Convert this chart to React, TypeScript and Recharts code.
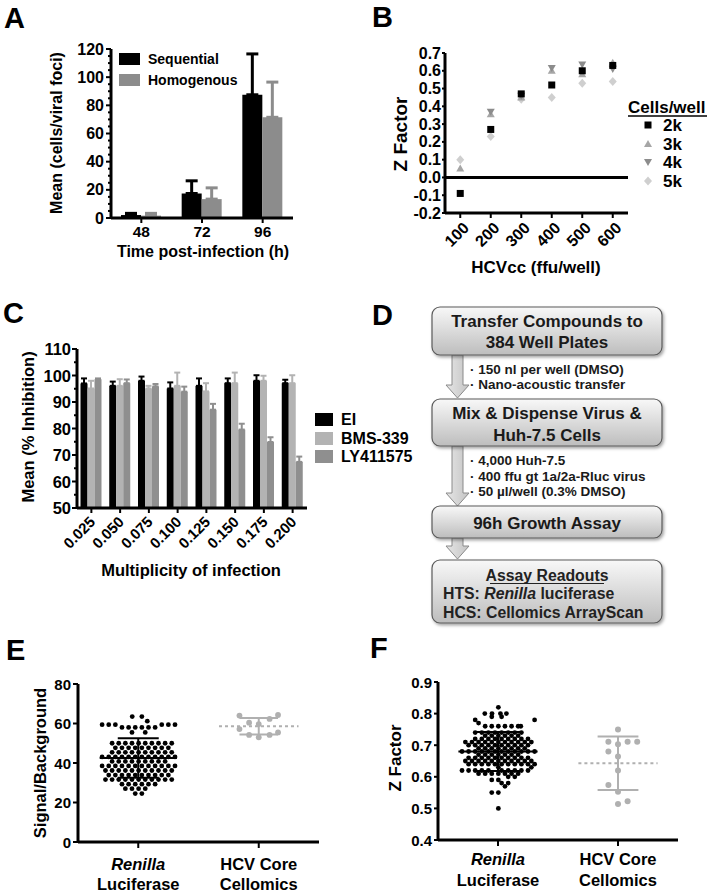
import React from 'react';
import {
  BarChart, Bar, ErrorBar, XAxis, YAxis,
  ScatterChart, Scatter, ReferenceLine,
} from 'recharts';

const FONT = '"Liberation Sans", Arial, Helvetica, sans-serif';
const AXIS = { stroke: '#000', strokeWidth: 3 };

// A - foci size by infection format
const timePoints = ['48', '72', '96'];
const sequentialMean = [2.1, 17.4, 87.5];
const sequentialSD = [1.2, 9.0, 29.0];
const homogenousMean = [1.7, 13.4, 71.5];
const homogenousSD = [1.6, 8.0, 25.0];
const aTicks = [0, 5, 10, 15, 20, 25, 30, 35, 40, 45, 50, 55, 60, 65, 70, 75, 80, 85, 90, 95, 100, 105, 110, 115, 120];
const aMajors = [0, 20, 40, 60, 80, 100, 120];

// B - Z factor vs virus input, per cell density
const ffuPerWell = [100, 200, 300, 400, 500, 600];
const z2k = [-0.09, 0.27, 0.47, 0.52, 0.6, 0.63];
const z3k = [0.05, 0.355, 0.45, 0.6, 0.58, 0.645];
const z4k = [null, 0.37, 0.46, 0.615, 0.635, 0.61];
const z5k = [0.1, 0.23, 0.44, 0.45, 0.53, 0.54];
const bTicks = [-0.2, -0.1, 0, 0.1, 0.2, 0.3, 0.4, 0.5, 0.6, 0.7];

// C - inhibition vs MOI
const moiLabels = ['0.025', '0.050', '0.075', '0.100', '0.125', '0.150', '0.175', '0.200'];
const eiMean = [97.0, 96.1, 98.0, 95.1, 96.1, 97.1, 98.0, 97.1];
const eiSD = [1.9, 1.6, 1.6, 2.3, 2.8, 1.8, 2.1, 1.3];
const bmsMean = [95.1, 96.1, 95.1, 96.1, 94.0, 97.1, 98.0, 97.1];
const bmsSD = [2.9, 2.5, 1.0, 5.0, 3.1, 4.0, 1.9, 3.0];
const lyMean = [98.6, 97.1, 95.9, 93.9, 87.1, 79.6, 74.9, 67.4];
const lySD = [0.3, 1.4, 0.9, 1.9, 2.2, 2.2, 1.8, 2.0];
const cTicks = [50, 55, 60, 65, 70, 75, 80, 85, 90, 95, 100, 105, 110];
const cMajors = [50, 60, 70, 80, 90, 100, 110];

// E - signal/background per plate; rows of [value, horizontal jitter offsets]
const renillaSBRows: [number, number[]][] = [
  [63.5, [-0.05, 0.03]],
  [61.2, [0.075]],
  [59.4, [-0.3, -0.245, -0.19, 0.195, 0.25, 0.305]],
  [58.0, [-0.135, -0.08, -0.025, 0.03, 0.085, 0.14]],
  [55.5, [-0.052, 0.058]],
  [50.0, [-0.217, -0.162, -0.107, -0.052, 0.003, 0.058, 0.113, 0.168, 0.223, 0.278]],
  [47.7, [-0.19, -0.135, -0.08, -0.025, 0.03, 0.085, 0.14, 0.195, 0.25]],
  [45.4, [-0.217, -0.162, -0.107, -0.052, 0.003, 0.058, 0.113, 0.168, 0.223, 0.278]],
  [43.1, [-0.3, -0.245, -0.19, -0.135, -0.08, -0.025, 0.03, 0.085, 0.14, 0.195, 0.25, 0.305]],
  [40.8, [-0.217, -0.162, -0.107, -0.052, 0.003, 0.058, 0.113, 0.168, 0.223]],
  [38.5, [-0.3, -0.245, -0.19, -0.135, -0.08, -0.025, 0.03, 0.085, 0.14, 0.195, 0.25, 0.305]],
  [36.2, [-0.272, -0.217, -0.162, -0.107, -0.052, 0.003, 0.058, 0.113, 0.168, 0.223, 0.278]],
  [33.9, [-0.245, -0.19, -0.135, -0.08, -0.025, 0.03, 0.085, 0.14, 0.195, 0.25]],
  [31.6, [-0.272, -0.217, -0.162, -0.107, -0.052, 0.003, 0.058, 0.113, 0.168, 0.223, 0.278]],
  [29.3, [-0.135, -0.08, -0.025, 0.03, 0.085, 0.14]],
  [27.0, [-0.107, -0.052, 0.003, 0.058]],
  [24.5, [-0.025, 0.03]],
];
const coreSB: [number, number][] = [
  [-0.16, 64.0], [-0.08, 60.4], [0, 59.7], [0.09, 62.3], [0.16, 64.3],
  [-0.16, 57.2], [-0.08, 54.2], [0, 53.0], [0.09, 54.2], [0.16, 55.5],
];
const renillaSBMean = 42.5, renillaSBSD = 10;
const coreSBMean = 58.6, coreSBSD = 4.2;
const eTicks = [0, 20, 40, 60, 80];

// F - Z factor per plate
const renillaZRows: [number, number[]][] = [
  [0.82, [0.003]],
  [0.80, [-0.11, -0.05, 0.02, 0.07]],
  [0.79, [-0.052, 0.03]],
  [0.78, [-0.19, 0.305]],
  [0.77, [-0.162]],
  [0.76, [-0.107, -0.052, 0.003, 0.058, 0.113, 0.168, 0.19]],
  [0.74, [-0.19, -0.135, -0.08, -0.025, 0.03, 0.085, 0.14, 0.195]],
  [0.73, [-0.107, -0.052, 0.003, 0.058, 0.113, 0.168]],
  [0.72, [-0.19, -0.135, -0.08, -0.025, 0.03, 0.085, 0.14, 0.195, 0.25]],
  [0.71, [-0.272, -0.217, -0.162, -0.107, -0.052, 0.003, 0.058, 0.113, 0.168, 0.223, 0.278]],
  [0.70, [-0.245, -0.19, -0.135, -0.08, -0.025, 0.03, 0.085, 0.14, 0.195, 0.25]],
  [0.69, [-0.162, -0.107, -0.052, 0.003, 0.058, 0.113, 0.168, 0.223]],
  [0.68, [-0.3, -0.245, -0.19, -0.135, -0.08, -0.025, 0.03, 0.085, 0.14, 0.195, 0.25, 0.305]],
  [0.67, [-0.162, -0.107, -0.052, 0.003, 0.058, 0.113, 0.168]],
  [0.66, [-0.245, -0.19, -0.135, -0.08, -0.025, 0.03, 0.085, 0.14, 0.195, 0.25]],
  [0.65, [-0.272, -0.217, -0.162, -0.107, -0.052, 0.003, 0.058, 0.113, 0.168, 0.223, 0.278]],
  [0.64, [-0.245, -0.19, -0.135, -0.08, -0.025, 0.03, 0.085, 0.14, 0.195, 0.25, 0.305]],
  [0.63, [0.003, 0.278]],
  [0.62, [-0.3, -0.245, -0.19, -0.135, -0.08, 0.03, 0.085, 0.14, 0.195, 0.25]],
  [0.61, [-0.162, -0.107, -0.052, 0.003, 0.058, 0.113, 0.168]],
  [0.60, [0.085, 0.14]],
  [0.59, [-0.052, 0.003]],
  [0.58, [0.03, 0.085]],
  [0.57, [0.058]],
  [0.55, [-0.052, 0.003]],
  [0.50, [0.003]],
];
const coreZ: [number, number][] = [
  [0, 0.75], [-0.08, 0.711], [0.08, 0.711], [0.16, 0.711], [0, 0.703], [-0.08, 0.68],
  [0, 0.664], [0, 0.62], [-0.08, 0.574], [0, 0.553], [0.08, 0.523], [0, 0.514],
];
const renillaZMean = 0.68, renillaZSD = 0.062;
const coreZMean = 0.643, coreZSD = 0.0845;
const fTicks = [0.4, 0.5, 0.6, 0.7, 0.8, 0.9];

const platformLabels = [
  { top: 'Renilla', bottom: 'Luciferase', italic: true },
  { top: 'HCV Core', bottom: 'Cellomics', italic: false },
];

const GRAY_A = '#8c8c8c';
const LIGHT = '#b3b3b3';
const MID = '#8f8f8f';
const DOT_GRAY = '#b0b0b0';

const fociData = timePoints.map((t, i) => ({
  time: t,
  seq: sequentialMean[i], seqErr: [0, sequentialSD[i]],
  hom: homogenousMean[i], homErr: [0, homogenousSD[i]],
}));

const moiData = moiLabels.map((m, i) => ({
  moi: m,
  ei: eiMean[i], eiErr: [0, eiSD[i]],
  bms: bmsMean[i], bmsErr: [0, bmsSD[i]],
  ly: lyMean[i], lyErr: [0, lySD[i]],
}));

const toSeries = (vals: (number | null)[]) =>
  ffuPerWell.map((x, i) => ({ x, y: vals[i] })).filter((d) => d.y !== null);

const fromRows = (rows: [number, number[]][], cat: number) =>
  rows.flatMap(([y, offs]) => offs.map((o) => ({ x: cat + o, y })));
const fromPairs = (pairs: [number, number][], cat: number) => pairs.map(([o, y]) => ({ x: cat + o, y }));

// ---- tick renderers ----
const leftTick = (o: { fontSize: number; len: number; gap: number; majors?: number[]; fmt?: (v: number) => string }) =>
  (p: any) => {
    const v = p.payload.value as number;
    const major = !o.majors || o.majors.includes(v);
    const len = major ? o.len : o.len * 0.6;
    return (
      <g>
        <line x1={p.x} x2={p.x - len} y1={p.y} y2={p.y} stroke="#000" strokeWidth={2} />
        {major && (
          <text x={p.x - o.len - o.gap} y={p.y} textAnchor="end" dominantBaseline="central"
            fontSize={o.fontSize} fontWeight="bold" fontFamily={FONT} fill="#000">
            {o.fmt ? o.fmt(v) : v}
          </text>
        )}
      </g>
    );
  };

const catTick = (fontSize: number) => (p: any) => (
  <g>
    <line x1={p.x} x2={p.x} y1={p.y} y2={p.y + 5} stroke="#000" strokeWidth={2} />
    <text x={p.x} y={p.y + 18.5} textAnchor="middle" fontSize={fontSize} fontWeight="bold" fontFamily={FONT} fill="#000">
      {p.payload.value}
    </text>
  </g>
);

const rotTick = (fontSize: number, dx: number, dy: number) => (p: any) => {
  const ax = p.x + dx;
  const ay = p.y + dy;
  return (
    <g>
      <line x1={p.x} x2={p.x} y1={p.y} y2={p.y + 5} stroke="#000" strokeWidth={2} />
      <text x={ax} y={ay} transform={`rotate(-45 ${ax} ${ay})`} textAnchor="end" dominantBaseline="central"
        fontSize={fontSize} fontWeight="bold" fontFamily={FONT} fill="#000">
        {p.payload.value}
      </text>
    </g>
  );
};

const platformTick = (dy1: number, dy2: number) => (p: any) => {
  const lab = platformLabels[p.payload.value - 1];
  if (!lab) return <g />;
  return (
    <g fontFamily={FONT} fontSize={16.5} fontWeight="bold" fill="#000">
      <line x1={p.x} x2={p.x} y1={p.y} y2={p.y + 6} stroke="#000" strokeWidth={2} />
      <text x={p.x} y={p.y + dy1} textAnchor="middle" fontStyle={lab.italic ? 'italic' : 'normal'}>{lab.top}</text>
      <text x={p.x} y={p.y + dy2} textAnchor="middle">{lab.bottom}</text>
    </g>
  );
};

// ---- marker shapes ----
const square = (c: string) => (p: any) => <rect x={p.cx - 3.5} y={p.cy - 3.5} width={7} height={7} fill={c} />;
const triUp = (c: string) => (p: any) => (
  <polygon points={`${p.cx},${p.cy - 4} ${p.cx + 4},${p.cy + 3} ${p.cx - 4},${p.cy + 3}`} fill={c} />
);
const triDown = (c: string) => (p: any) => (
  <polygon points={`${p.cx},${p.cy + 4} ${p.cx + 4},${p.cy - 3} ${p.cx - 4},${p.cy - 3}`} fill={c} />
);
const diamond = (c: string) => (p: any) => (
  <polygon points={`${p.cx},${p.cy - 4.5} ${p.cx + 4},${p.cy} ${p.cx},${p.cy + 4.5} ${p.cx - 4},${p.cy}`} fill={c} />
);
const dot = (c: string, r: number) => (p: any) => <circle cx={p.cx} cy={p.cy} r={r} fill={c} />;

const PanelA = () => (
  <BarChart width={350} height={262} data={fociData} margin={{ top: 49, right: 57, bottom: 0, left: 0 }}
    barCategoryGap={10} barGap={0}>
    <XAxis dataKey="time" height={44} interval={0} tickLine={false} tickSize={0} tickMargin={0} axisLine={AXIS} tick={catTick(15.5)} />
    <YAxis width={111} domain={[0, 120]} ticks={aTicks} interval={0} tickLine={false} tickSize={0} tickMargin={0}
      axisLine={AXIS} tick={leftTick({ fontSize: 16, len: 5, gap: 2, majors: aMajors })} />
    <Bar dataKey="seq" fill="#000" isAnimationActive={false}>
      <ErrorBar dataKey="seqErr" width={6} strokeWidth={3} stroke="#000" direction="y" />
    </Bar>
    <Bar dataKey="hom" fill={GRAY_A} isAnimationActive={false}>
      <ErrorBar dataKey="homErr" width={6} strokeWidth={3} stroke={GRAY_A} direction="y" />
    </Bar>
  </BarChart>
);

const PanelB = () => (
  <ScatterChart width={360} height={290} margin={{ top: 53, right: 82, bottom: 0, left: 0 }}>
    <XAxis type="number" dataKey="x" domain={[50, 650]} ticks={ffuPerWell} interval={0} height={77}
      tickLine={false} tickSize={0} tickMargin={0} axisLine={AXIS} tick={rotTick(16, 6, 12)} allowDataOverflow />
    <YAxis type="number" dataKey="y" domain={[-0.2, 0.7]} ticks={bTicks} interval={0} width={95}
      tickLine={false} tickSize={0} tickMargin={0} axisLine={AXIS} allowDataOverflow
      tick={leftTick({ fontSize: 16, len: 3, gap: 1, fmt: (v) => v.toFixed(1) })} />
    <ReferenceLine y={0} stroke="#000" strokeWidth={3} />
    <Scatter data={toSeries(z5k)} shape={diamond('#cfcfcf')} isAnimationActive={false} />
    <Scatter data={toSeries(z3k)} shape={triUp('#a6a6a6')} isAnimationActive={false} />
    <Scatter data={toSeries(z4k)} shape={triDown('#8c8c8c')} isAnimationActive={false} />
    <Scatter data={toSeries(z2k)} shape={square('#000')} isAnimationActive={false} />
  </ScatterChart>
);

const PanelC = () => (
  <BarChart width={350} height={300} data={moiData} margin={{ top: 49, right: 43, bottom: 0, left: 0 }}
    barCategoryGap={3.5} barGap={0}>
    <XAxis dataKey="moi" height={92} interval={0} tickLine={false} tickSize={0} tickMargin={0} axisLine={AXIS} tick={rotTick(15, 1, 11)} />
    <YAxis width={77} domain={[50, 110]} ticks={cTicks} interval={0} tickLine={false} tickSize={0} tickMargin={0}
      axisLine={AXIS} tick={leftTick({ fontSize: 16.5, len: 5, gap: 1, majors: cMajors })} allowDataOverflow />
    <Bar dataKey="ei" fill="#000" isAnimationActive={false}>
      <ErrorBar dataKey="eiErr" width={3} strokeWidth={2} stroke="#000" direction="y" />
    </Bar>
    <Bar dataKey="bms" fill={LIGHT} isAnimationActive={false}>
      <ErrorBar dataKey="bmsErr" width={3} strokeWidth={2} stroke={LIGHT} direction="y" />
    </Bar>
    <Bar dataKey="ly" fill={MID} isAnimationActive={false}>
      <ErrorBar dataKey="lyErr" width={3} strokeWidth={2} stroke={MID} direction="y" />
    </Bar>
  </BarChart>
);

const meanSD = (cat: number, mean: number, sd: number, halfMean: number, halfCap: number, color: string, dashed: boolean) => [
  <ReferenceLine key="m" segment={[{ x: cat - halfMean, y: mean }, { x: cat + halfMean, y: mean }]} stroke={color}
    strokeWidth={2} strokeDasharray={dashed ? '3 3' : undefined} />,
  <ReferenceLine key="v" segment={[{ x: cat, y: mean - sd }, { x: cat, y: mean + sd }]} stroke={color} strokeWidth={2} />,
  <ReferenceLine key="t" segment={[{ x: cat - halfCap, y: mean + sd }, { x: cat + halfCap, y: mean + sd }]} stroke={color} strokeWidth={2} />,
  <ReferenceLine key="b" segment={[{ x: cat - halfCap, y: mean - sd }, { x: cat + halfCap, y: mean - sd }]} stroke={color} strokeWidth={2} />,
];

const PanelE = () => (
  <ScatterChart width={350} height={255} margin={{ top: 44, right: 31, bottom: 0, left: 0 }}>
    <XAxis type="number" dataKey="x" domain={[0.5, 2.5]} ticks={[1, 2]} interval={0} height={53}
      tickLine={false} tickSize={0} tickMargin={0} axisLine={AXIS} tick={platformTick(28, 48)} allowDataOverflow />
    <YAxis type="number" dataKey="y" domain={[0, 80]} ticks={eTicks} interval={0} width={78}
      tickLine={false} tickSize={0} tickMargin={0} axisLine={AXIS} allowDataOverflow
      tick={leftTick({ fontSize: 15, len: 5, gap: 2 })} />
    <Scatter data={fromRows(renillaSBRows, 1)} shape={dot('#000', 2.4)} isAnimationActive={false} />
    <Scatter data={fromPairs(coreSB, 2)} shape={dot(DOT_GRAY, 2.9)} isAnimationActive={false} />
    {meanSD(1, renillaSBMean, renillaSBSD, 0.32, 0.17, '#000', false)}
    {meanSD(2, coreSBMean, coreSBSD, 0.33, 0.16, DOT_GRAY, true)}
  </ScatterChart>
);

const PanelF = () => (
  <ScatterChart width={360} height={255} margin={{ top: 42, right: 32, bottom: 0, left: 0 }}>
    <XAxis type="number" dataKey="x" domain={[0.5, 2.5]} ticks={[1, 2]} interval={0} height={55}
      tickLine={false} tickSize={0} tickMargin={0} axisLine={AXIS} tick={platformTick(25, 46)} allowDataOverflow />
    <YAxis type="number" dataKey="y" domain={[0.4, 0.9]} ticks={fTicks} interval={0} width={88}
      tickLine={false} tickSize={0} tickMargin={0} axisLine={AXIS} allowDataOverflow
      tick={leftTick({ fontSize: 15, len: 4, gap: 2, fmt: (v) => v.toFixed(1) })} />
    <Scatter data={fromRows(renillaZRows, 1)} shape={dot('#000', 2.4)} isAnimationActive={false} />
    <Scatter data={fromPairs(coreZ, 2)} shape={dot(DOT_GRAY, 3)} isAnimationActive={false} />
    {meanSD(1, renillaZMean, renillaZSD, 0.33, 0.19, '#000', false)}
    {meanSD(2, coreZMean, coreZSD, 0.33, 0.17, DOT_GRAY, true)}
  </ScatterChart>
);

const B = (props: any) => <text fontFamily={FONT} fontWeight="bold" fill="#000" {...props} />;
const VTitle = ({ x, y, size, children }: any) => (
  <B x={x} y={y} fontSize={size} textAnchor="middle" dominantBaseline="central" transform={`rotate(-90 ${x} ${y})`}>{children}</B>
);

const arrow = (yt: number, yh: number, yb: number) =>
  `452,${yt} 463,${yt} 463,${yh} 469,${yh} 457.5,${yb} 446,${yh} 452,${yh}`;

const Box = ({ y, h }: { y: number; h: number }) => (
  <rect x={432} y={y} width={230} height={h} rx={8} ry={8} fill="url(#boxGrad)" stroke="#5a5a5a" strokeWidth={1.2} filter="url(#shadow)" />
);

const Overlay = () => (
  <svg width={710} height={895} style={{ position: 'absolute', left: 0, top: 0, pointerEvents: 'none' }}>
    <defs>
      <linearGradient id="boxGrad" x1="0" y1="0" x2="0" y2="1">
        <stop offset="0%" stopColor="#f8f8f8" />
        <stop offset="100%" stopColor="#bdbdbd" />
      </linearGradient>
      <linearGradient id="arrowGrad" x1="0" y1="0" x2="1" y2="0">
        <stop offset="0%" stopColor="#e6e6e6" />
        <stop offset="100%" stopColor="#c4c4c4" />
      </linearGradient>
      <filter id="shadow" x="-10%" y="-10%" width="130%" height="140%">
        <feDropShadow dx="1.5" dy="2" stdDeviation="1.5" floodOpacity="0.35" />
      </filter>
    </defs>

    {/* panel letters */}
    <B x={4} y={28} fontSize={29}>A</B>
    <B x={372} y={27} fontSize={29}>B</B>
    <B x={3} y={323} fontSize={29}>C</B>
    <B x={372} y={325} fontSize={29}>D</B>
    <B x={6} y={660} fontSize={29}>E</B>
    <B x={370} y={658} fontSize={29}>F</B>

    {/* axis titles */}
    <VTitle x={56} y={133} size={16}>Mean (cells/viral foci)</VTitle>
    <B x={203} y={257} fontSize={16} textAnchor="middle">Time post-infection (h)</B>
    <VTitle x={400} y={134} size={19}>Z Factor</VTitle>
    <B x={536} y={273} fontSize={17} textAnchor="middle">HCVcc (ffu/well)</B>
    <VTitle x={28} y={427} size={16.5}>Mean (% Inhibition)</VTitle>
    <B x={191} y={576} fontSize={16.5} textAnchor="middle">Multiplicity of infection</B>
    <VTitle x={40} y={763} size={16.5}>Signal/Background</VTitle>
    <VTitle x={395} y={758} size={17}>Z Factor</VTitle>

    {/* A legend */}
    <rect x={119} y={53} width={21} height={12} fill="#000" />
    <rect x={119} y={74} width={21} height={12} fill={GRAY_A} />
    <B x={148} y={64} fontSize={14}>Sequential</B>
    <B x={148} y={85} fontSize={14}>Homogenous</B>

    {/* B legend */}
    <B x={628} y={113} fontSize={17}>Cells/well</B>
    <line x1={628} x2={707} y1={116} y2={116} stroke="#000" strokeWidth={1.3} />
    {square('#000')({ cx: 648, cy: 125 })}
    {triUp('#a6a6a6')({ cx: 648, cy: 144 })}
    {triDown('#8c8c8c')({ cx: 648, cy: 162 })}
    {diamond('#cfcfcf')({ cx: 648, cy: 181 })}
    <B x={663} y={131} fontSize={17}>2k</B>
    <B x={663} y={150} fontSize={17}>3k</B>
    <B x={663} y={168} fontSize={17}>4k</B>
    <B x={663} y={187} fontSize={17}>5k</B>

    {/* C legend */}
    <rect x={315} y={413} width={18} height={13} fill="#000" />
    <rect x={315} y={432} width={18} height={13} fill={LIGHT} />
    <rect x={315} y={450} width={18} height={13} fill={MID} />
    <B x={341} y={425} fontSize={16}>EI</B>
    <B x={341} y={444} fontSize={16}>BMS-339</B>
    <B x={341} y={462} fontSize={16}>LY411575</B>

    {/* D workflow */}
    <polygon points={arrow(355, 385, 398)} fill="url(#arrowGrad)" stroke="#8a8a8a" strokeWidth={1} />
    <polygon points={arrow(446, 493, 506)} fill="url(#arrowGrad)" stroke="#8a8a8a" strokeWidth={1} />
    <polygon points={arrow(538, 546, 559)} fill="url(#arrowGrad)" stroke="#8a8a8a" strokeWidth={1} />
    <Box y={307} h={48} />
    <Box y={399} h={47} />
    <Box y={506} h={32} />
    <Box y={560} h={63} />
    <g fill="#1a1a1a">
      <B x={547} y={327} fontSize={17} textAnchor="middle" fill="#1a1a1a">Transfer Compounds to</B>
      <B x={547} y={348} fontSize={17} textAnchor="middle" fill="#1a1a1a">384 Well Plates</B>
      <B x={547} y={419} fontSize={17} textAnchor="middle" fill="#1a1a1a">Mix &amp; Dispense Virus &amp;</B>
      <B x={547} y={441} fontSize={17} textAnchor="middle" fill="#1a1a1a">Huh-7.5 Cells</B>
      <B x={547} y={529} fontSize={17} textAnchor="middle" fill="#1a1a1a">96h Growth Assay</B>
      <B x={470} y={374} fontSize={13.5} fill="#1a1a1a">· 150 nl per well (DMSO)</B>
      <B x={470} y={389} fontSize={13.5} fill="#1a1a1a">· Nano-acoustic transfer</B>
      <B x={470} y={465} fontSize={13.5} fill="#1a1a1a">· 4,000 Huh-7.5</B>
      <B x={470} y={480.5} fontSize={13.5} fill="#1a1a1a">· 400 ffu gt 1a/2a-Rluc virus</B>
      <B x={470} y={496} fontSize={13.5} fill="#1a1a1a">· 50 µl/well (0.3% DMSO)</B>
      <B x={547} y={580.5} fontSize={15.8} textAnchor="middle" fill="#222">Assay Readouts</B>
      <line x1={490} x2={604} y1={583.5} y2={583.5} stroke="#222" strokeWidth={1.2} />
      <B x={443} y={598.5} fontSize={15.8} fill="#222">HTS: <tspan fontStyle="italic">Renilla</tspan> luciferase</B>
      <B x={443} y={617.5} fontSize={15.8} fill="#222">HCS: Cellomics ArrayScan</B>
    </g>
  </svg>
);

export default function App() {
  return (
    <div style={{ position: 'absolute', left: 0, top: 0, width: 710, height: 895, background: '#fff', overflow: 'hidden', fontFamily: FONT }}>
      <div style={{ position: 'absolute', left: 0, top: 0 }}><PanelA /></div>
      <div style={{ position: 'absolute', left: 350, top: 0 }}><PanelB /></div>
      <div style={{ position: 'absolute', left: 0, top: 300 }}><PanelC /></div>
      <div style={{ position: 'absolute', left: 0, top: 640 }}><PanelE /></div>
      <div style={{ position: 'absolute', left: 350, top: 640 }}><PanelF /></div>
      <Overlay />
    </div>
  );
}
